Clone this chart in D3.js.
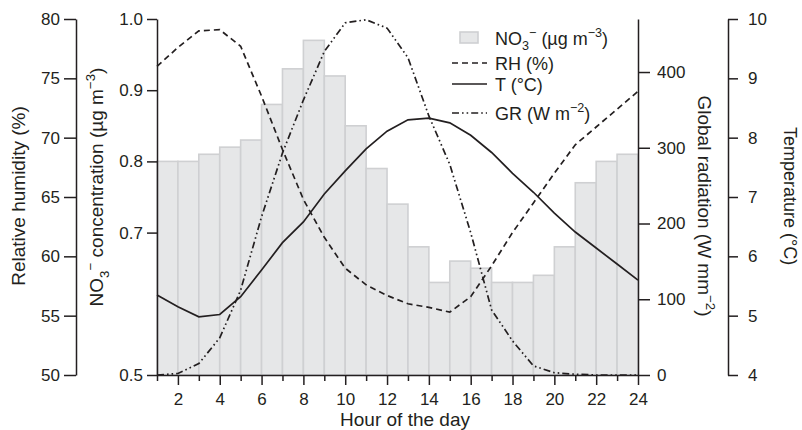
<!DOCTYPE html>
<html>
<head>
<meta charset="utf-8">
<script src="https://cdn.jsdelivr.net/npm/d3@7"></script>
<style>
  html, body { margin: 0; padding: 0; background: #fff; }
  svg { display: block; font-family: "Liberation Sans", Arial, Helvetica, sans-serif; }
</style>
</head>
<body>
<svg id="chart" width="802" height="430"></svg>
<script>
// ---- data ----
const hours = [1,2,3,4,5,6,7,8,9,10,11,12,13,14,15,16,17,18,19,20,21,22,23,24];
const barStartHours = [1,2,3,4,5,6,7,8,9,10,11,12,13,14,15,16,17,18,19,20,21,22,23];
const no3 = [0.80,0.80,0.81,0.82,0.83,0.88,0.93,0.97,0.92,0.85,0.79,0.74,0.68,0.63,0.66,0.65,0.63,0.63,0.64,0.68,0.77,0.80,0.81];
const rh  = [76.0,77.6,79.0,79.1,77.7,73.5,69.0,64.8,61.6,59.0,57.6,56.7,56.0,55.7,55.3,56.6,59.2,62.0,64.5,67.0,69.4,70.9,72.4,73.9];
const temp = [5.35,5.15,4.98,5.02,5.32,5.77,6.23,6.58,7.05,7.44,7.81,8.11,8.30,8.33,8.25,8.04,7.75,7.40,7.08,6.73,6.41,6.14,5.87,5.60];
const gr  = [0,2,15,49,112,209,293,363,427,465,469,458,419,342,278,188,86,45,12,3,1,0,0,0];
const xTicks = [1,2,3,4,5,6,7,8,9,10,11,12,13,14,15,16,17,18,19,20,21,22,23,24];
const rhTicks = [50,55,60,65,70,75,80];
const no3Ticks = [0.5,0.7,0.8,0.9,1.0];
const grTicks = [0,100,200,300,400];
const tTicks = [4,5,6,7,8,9,10];

// ---- layout ----
const ink = "#231f20";
const plotTop = 19, plotBottom = 375, plotLeft = 157, plotRight = 638;
const svg = d3.select("#chart");

const x = d3.scaleLinear().domain([1,24]).range([plotLeft,plotRight]);
const yNO3 = d3.scaleLinear().domain([0.5,1.0]).range([plotBottom,plotTop]);
const yRH = d3.scaleLinear().domain([50,80]).range([plotBottom,plotTop]);
const yGR = d3.scaleLinear().domain([0,470]).range([plotBottom,plotTop]);
const yT = d3.scaleLinear().domain([4,10]).range([plotBottom,plotTop]);

// bars
svg.append("g").selectAll("rect").data(barStartHours).join("rect")
  .attr("x", (h) => x(h))
  .attr("width", (h) => x(h+1) - x(h))
  .attr("y", (h,i) => yNO3(no3[i]))
  .attr("height", (h,i) => plotBottom - yNO3(no3[i]))
  .attr("fill", "#e6e7e8")
  .attr("stroke", "#cfd0d2")
  .attr("stroke-width", 1.6);

// lines
function drawLine(vals, y, dash) {
  const line = d3.line().x((d,i) => x(hours[i])).y((d) => y(d));
  svg.append("path").datum(vals)
    .attr("d", line)
    .attr("fill", "none")
    .attr("stroke", ink)
    .attr("stroke-width", 1.7)
    .attr("stroke-dasharray", dash);
}
const dashRH = "6,4";
const dashGR = "7,3,1.6,3,1.6,3";
drawLine(rh, yRH, dashRH);
drawLine(temp, yT, null);
drawLine(gr, yGR, dashGR);

// axes
function styleAxis(g) {
  g.selectAll("path, line").attr("stroke", ink).attr("stroke-width", 1.5);
  g.selectAll("text").attr("fill", ink).style("font-size", "17px").style("font-family", "\"Liberation Sans\", Arial, sans-serif");
}
const gRH = svg.append("g").attr("transform", `translate(76,0)`)
  .call(d3.axisLeft(yRH).tickValues(rhTicks).tickFormat(d3.format("d")).tickSize(12).tickSizeOuter(0).tickPadding(4));
styleAxis(gRH);

const gNO3 = svg.append("g").attr("transform", `translate(${plotLeft},0)`)
  .call(d3.axisLeft(yNO3).tickValues(no3Ticks).tickFormat(d3.format(".1f")).tickSize(10).tickSizeOuter(0).tickPadding(4));
styleAxis(gNO3);

const gGR = svg.append("g").attr("transform", `translate(${plotRight},0)`)
  .call(d3.axisRight(yGR).tickValues(grTicks).tickFormat(d3.format("d")).tickSize(12).tickSizeOuter(0).tickPadding(7));
styleAxis(gGR);

const gT = svg.append("g").attr("transform", `translate(728,0)`)
  .call(d3.axisRight(yT).tickValues(tTicks).tickFormat(d3.format("d")).tickSize(10).tickSizeOuter(0).tickPadding(10));
styleAxis(gT);

const gX = svg.append("g").attr("transform", `translate(0,${plotBottom})`)
  .call(d3.axisBottom(x).tickValues(xTicks).tickFormat((d) => d % 2 === 0 ? d : "").tickSize(10).tickSizeOuter(0).tickPadding(8));
styleAxis(gX);
gX.selectAll(".tick").filter((d) => d % 2 === 1).select("line").attr("y2", 6);

// axis titles
function addParts(t, parts, size) {
  let shift = 0;
  parts.forEach((p) => {
    const s = t.append("tspan").text(p.t);
    let target = 0;
    if (p.sub) target = size * 0.3;
    if (p.sup) target = -size * 0.4;
    if (target !== shift) { s.attr("dy", target - shift); shift = target; }
    if (p.sub || p.sup) s.style("font-size", (size * 0.7) + "px");
  });
}
function title(txtParts, xPos, yPos, rot, size) {
  const t = svg.append("text")
    .attr("transform", `translate(${xPos},${yPos}) rotate(${rot})`)
    .attr("text-anchor", "middle")
    .attr("fill", ink)
    .style("font-size", size + "px");
  addParts(t, txtParts, size);
  return t;
}

title([{t:"Relative humidity (%)"}], 25, 196, -90, 19);
title([{t:"NO"},{t:"3",sub:true},{t:"−",sup:true},{t:" concentration (µg m"},{t:"−3",sup:true},{t:")"}], 103, 187, -90, 19);
title([{t:"Global radiation (W mm"},{t:"−2",sup:true},{t:")"}], 698, 206, 90, 19);
title([{t:"Temperature (°C)"}], 784, 196, 90, 18);
title([{t:"Hour of the day"}], 405, 426, 0, 19);

// legend
const lg = svg.append("g");
const lx0 = 452, lx1 = 487, ltx = 495;
lg.append("rect").attr("x", 460).attr("y", 32).attr("width", 18).attr("height", 11)
  .attr("fill", "#e6e7e8").attr("stroke", "#cfd0d2").attr("stroke-width", 1.6);
const legendRows = [
  {y: 63, dash: dashRH, parts: [{t:"RH (%)"}]},
  {y: 84, dash: null, parts: [{t:"T (°C)"}]},
  {y: 113, dash: dashGR, parts: [{t:"GR (W m"},{t:"−2",sup:true},{t:")"}]}
];
legendRows.forEach((r) => {
  lg.append("line").attr("x1", lx0).attr("x2", lx1).attr("y1", r.y).attr("y2", r.y)
    .attr("stroke", ink).attr("stroke-width", 1.7).attr("stroke-dasharray", r.dash);
});
const legendTexts = [
  {y: 38, parts: [{t:"NO"},{t:"3",sub:true},{t:"−",sup:true},{t:" (µg m"},{t:"−3",sup:true},{t:")"}]},
  {y: 63, parts: legendRows[0].parts},
  {y: 84, parts: legendRows[1].parts},
  {y: 113, parts: legendRows[2].parts}
];
legendTexts.forEach((r) => {
  const t = lg.append("text").attr("x", ltx).attr("y", r.y + 6.5).attr("fill", ink).style("font-size", "18px");
  addParts(t, r.parts, 18);
});
</script>
</body>
</html>
